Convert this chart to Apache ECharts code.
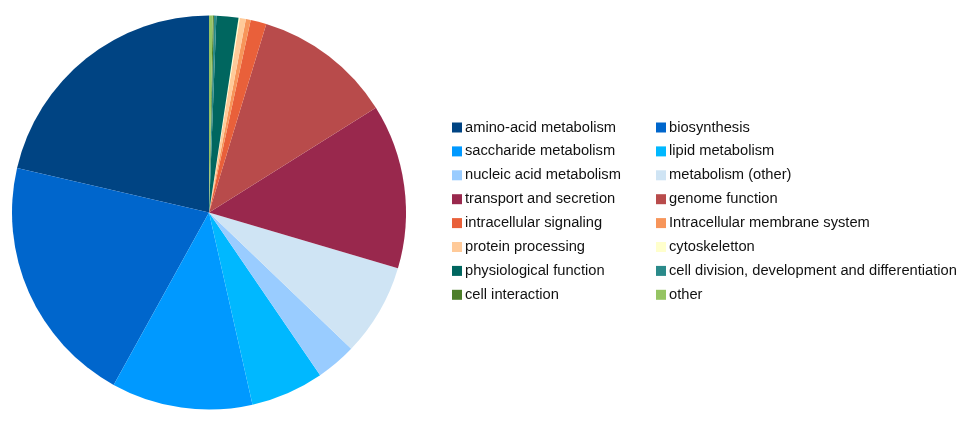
<!DOCTYPE html>
<html><head><meta charset="utf-8">
<script src="https://cdn.jsdelivr.net/npm/echarts@6/dist/echarts.min.js"></script>
<style>html,body{margin:0;padding:0;background:#fff}#c{width:970px;height:422px}</style>
</head><body><div id="c"></div>
<script>
const categories = ["amino-acid metabolism","biosynthesis","saccharide metabolism","lipid metabolism","nucleic acid metabolism","metabolism (other)","transport and secretion","genome function","intracellular signaling","Intracellular membrane system","protein processing","cytoskeletton","physiological function","cell division, development and differentiation","cell interaction","other"];
const values = [21.4,20.6,11.6,6.0,3.3,7.6,13.5,11.4,1.3,0.4,0.5,0.1,1.8,0.2,0.1,0.3];
const colors = ["#004483","#0066cc","#0099ff","#00b8ff","#99ccff","#cfe4f4","#99284d","#b84b4b","#e9603a","#f7955a","#ffca99","#ffffcc","#00665f","#2a8a8a","#4d7f2a","#95c463"];

const chart = echarts.init(document.getElementById('c'), null, {renderer:'canvas'});
const data = categories.map((n,i)=>({name:n, value:values[i], itemStyle:{color:colors[i]}}));
const col1 = categories.filter((_,i)=>i%2===0);
const col2 = categories.filter((_,i)=>i%2===1);
const legendBase = {
  orient:'vertical', top:120, itemWidth:10, itemHeight:10, itemGap:8.9, padding:0,
  icon:'rect', selectedMode:false,
  textStyle:{fontFamily:'Liberation Sans, Arial, sans-serif', fontSize:14.7, color:'#111', lineHeight:14, padding:[0,0,0,-2]}
};
chart.setOption({
  animation:false,
  legend:[
    Object.assign({}, legendBase, {left:452, data:col1}),
    Object.assign({}, legendBase, {left:656, data:col2})
  ],
  series:[{
    type:'pie', center:[209,212.5], radius:[0,197], startAngle:90, clockwise:false,
    label:{show:false}, labelLine:{show:false}, minAngle:0, avoidLabelOverlap:false,
    itemStyle:{borderWidth:0},
    data:data
  }]
});
</script></body></html>
